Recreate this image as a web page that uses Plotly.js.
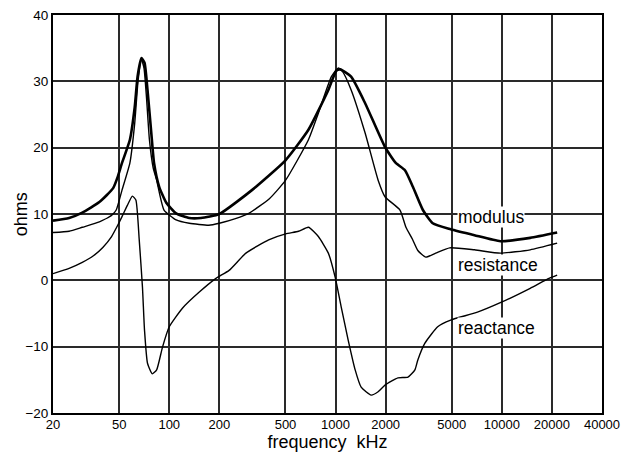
<!DOCTYPE html>
<html>
<head>
<meta charset="utf-8">
<script src="https://cdn.plot.ly/plotly-3.0.1.min.js"></script>
<style>html,body{margin:0;padding:0;background:#fff}#chart{width:624px;height:452px}</style>
</head>
<body>
<div id="chart"></div>
<script>
// frequency in kHz, values in ohms
var modulusFreq = [20, 25, 30, 38, 46, 49, 52, 58, 62, 64.5, 68, 71, 74, 78, 81, 87, 96, 110, 132, 155, 200, 314, 500, 687, 905, 1010, 1067, 1240, 1506, 1983, 2300, 2614, 2917, 3350, 3840, 4920, 6840, 9800, 14800, 21500];
var modulusOhms = [9.0, 9.4, 10.2, 11.8, 13.9, 15.6, 17.7, 21.2, 26.1, 30.7, 33.5, 32.8, 28.7, 22.2, 17.7, 14.1, 11.7, 10.1, 9.4, 9.4, 10.0, 13.6, 18.1, 22.7, 28.7, 31.6, 31.8, 30.7, 26.7, 20.1, 17.7, 16.6, 14.1, 10.6, 8.6, 7.7, 6.8, 5.9, 6.4, 7.2];

var resistanceFreq = [20, 25, 30, 38, 45, 48, 52, 58, 62, 65, 68, 70.5, 73, 76, 80, 84, 93, 110, 132, 173, 200, 250, 301, 400, 501, 687, 788, 944, 1037, 1100, 1241, 1506, 1803, 1983, 2440, 2650, 2900, 3124, 3485, 4000, 4857, 6843, 9790, 14800, 21500];
var resistanceOhms = [7.2, 7.4, 8.0, 8.8, 9.8, 10.6, 13.6, 17.7, 23.7, 30.2, 33.3, 32.0, 27.5, 21.2, 17.0, 15.1, 10.6, 9.1, 8.6, 8.3, 8.6, 9.3, 10.1, 12.3, 15.1, 21.2, 25.2, 30.7, 32.0, 31.5, 28.7, 22.2, 15.1, 12.6, 10.6, 8.0, 6.2, 4.5, 3.5, 4.1, 4.9, 4.6, 4.1, 4.6, 5.6];

var reactanceFreq = [20, 25, 30, 35, 40, 45, 49, 52, 56, 60, 63, 66, 69, 71, 74, 79, 84, 91, 100, 120, 151, 191, 229, 289, 396, 501, 599, 687, 788, 905, 996, 1081, 1191, 1312, 1425, 1637, 1803, 1983, 2373, 2724, 3000, 3124, 3439, 4113, 4920, 7130, 9940, 14800, 19200, 21500];
var reactanceOhms = [1.0, 1.8, 2.7, 3.7, 5.0, 6.6, 8.3, 9.6, 11.3, 12.7, 12.1, 6.1, -1.0, -7.5, -12.5, -14.1, -13.5, -10.1, -7.0, -4.2, -1.8, 0.3, 1.5, 4.1, 6.1, 7.0, 7.4, 8.0, 6.6, 4.1, 0.4, -4.0, -9.0, -13.5, -16.1, -17.3, -16.8, -15.8, -14.7, -14.6, -13.5, -12.0, -9.5, -7.0, -6.0, -4.8, -3.3, -1.2, 0.3, 0.8];

var xTickVals = [20, 50, 100, 200, 500, 1000, 2000, 5000, 10000, 20000, 40000];
var xTickText = ['20', '50', '100', '200', '500', '1000', '2000', '5000', '10000', '20000', '40000'];
var yTickVals = [-20, -10, 0, 10, 20, 30, 40];

var seriesNames = ['modulus', 'resistance', 'reactance'];
var yTitle = 'ohms';
var xTitle = 'frequency  kHz';

var FONT = '"Liberation Sans", Arial, Helvetica, sans-serif';

var traces = [
  {x: modulusFreq, y: modulusOhms, name: seriesNames[0], mode: 'lines',
   line: {color: '#000', width: 2.6, shape: 'spline', smoothing: 0.5}},
  {x: resistanceFreq, y: resistanceOhms, name: seriesNames[1], mode: 'lines',
   line: {color: '#000', width: 1.4, shape: 'spline', smoothing: 0.5}},
  {x: reactanceFreq, y: reactanceOhms, name: seriesNames[2], mode: 'lines',
   line: {color: '#000', width: 1.4, shape: 'spline', smoothing: 0.5}}
];

var labelFreq = 5350;
var labelY = [9.6, 2.3, -7.2];
var annotations = seriesNames.map(function (n, i) {
  return {x: Math.log10(labelFreq), y: labelY[i], xref: 'x', yref: 'y', text: n,
    showarrow: false, xanchor: 'left', yanchor: 'middle', bgcolor: '#ffffff', borderpad: 0,
    font: {family: FONT, size: 17.5, color: '#000'}};
});
// y-axis title, placed as rotated text in the left margin
annotations.push({x: -0.058, y: 0.5, xref: 'paper', yref: 'paper', text: yTitle,
  textangle: -90, showarrow: false, xanchor: 'center', yanchor: 'middle',
  font: {family: FONT, size: 18, color: '#000'}});

var layout = {
  width: 624, height: 452,
  margin: {l: 53, r: 22, t: 15, b: 39, pad: 0},
  paper_bgcolor: '#fff', plot_bgcolor: '#fff',
  showlegend: false,
  font: {family: FONT, color: '#000', size: 13},
  xaxis: {
    type: 'log', range: [Math.log10(20), Math.log10(40000)],
    tickvals: xTickVals, ticktext: xTickText, ticks: '',
    ticklabelstandoff: -2,
    showgrid: true, gridcolor: '#2a2a2a', gridwidth: 2,
    showline: true, linecolor: '#000', linewidth: 2, mirror: true,
    zeroline: false, tickfont: {family: FONT, size: 13, color: '#000'},
    title: {text: xTitle, font: {family: FONT, size: 18, color: '#000'}, standoff: 6}
  },
  yaxis: {
    range: [-20, 40], tickvals: yTickVals, ticks: '',
    showgrid: true, gridcolor: '#2a2a2a', gridwidth: 2,
    showline: true, linecolor: '#000', linewidth: 2, mirror: true,
    zeroline: false, tickfont: {family: FONT, size: 13.5, color: '#000'}
  },
  annotations: annotations
};

Plotly.newPlot('chart', traces, layout, {staticPlot: true, displayModeBar: false});
</script>
</body>
</html>
